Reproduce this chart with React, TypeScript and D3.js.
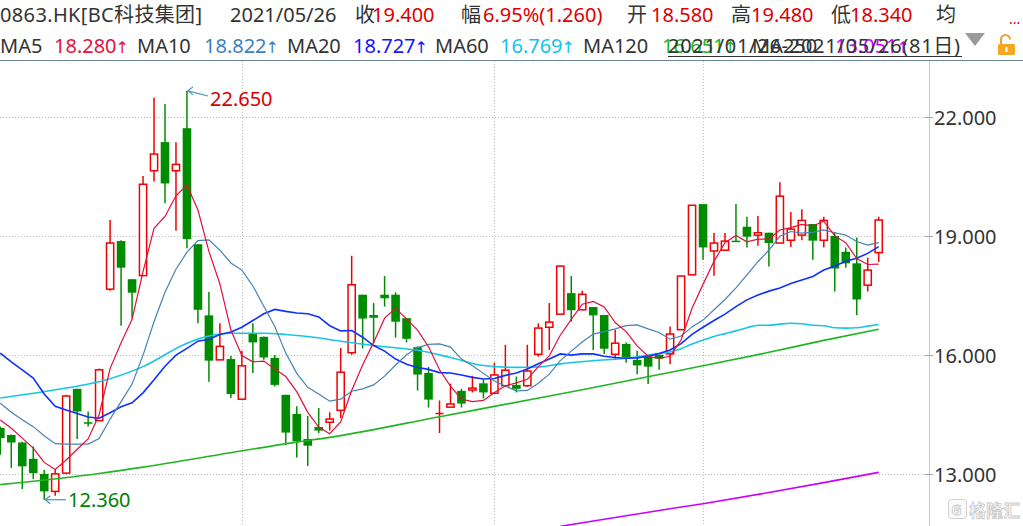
import React from "react";
import * as d3 from "d3";

// ---- candle data (81 trading days, 2021/01/26 - 2021/05/26) ----
const opens = [14.17, 13.99, 13.80, 13.39, 13.01, 12.57, 13.03, 15.15, 14.31, 14.35,
  17.66, 18.87, 17.91, 18.00, 20.64, 21.36, 20.64, 21.71, 18.79, 17.00,
  15.88, 15.90, 14.89, 16.53, 16.46, 15.93, 15.00, 14.52, 13.89, 14.19,
  14.31, 14.61, 16.06, 17.52, 17.01, 17.52, 17.52, 16.93, 16.20, 15.55,
  14.52, 14.69, 15.10, 15.12, 15.29, 15.04, 15.23, 15.25, 15.23, 16.02,
  16.70, 17.03, 17.56, 17.14, 17.21, 17.01, 16.02, 16.28, 15.88, 15.96,
  16.01, 16.03, 16.64, 18.02, 19.80, 18.62, 18.64, 18.88, 19.23, 19.02,
  19.08, 18.82, 18.89, 19.02, 19.30, 18.89, 19.00, 18.60, 18.31, 17.76, 18.58];
const highs = [14.20, 14.00, 13.82, 13.70, 13.11, 13.13, 15.00, 15.15, 14.58, 15.66,
  19.40, 18.89, 17.91, 20.51, 22.48, 22.32, 21.36, 22.65, 18.79, 17.59,
  16.80, 15.98, 16.11, 16.80, 16.47, 16.00, 15.00, 14.71, 14.47, 14.67,
  14.56, 16.18, 18.50, 17.52, 17.31, 17.99, 17.58, 16.93, 16.22, 15.70,
  14.86, 15.28, 15.15, 15.48, 15.39, 15.81, 16.26, 15.46, 16.26, 16.80,
  17.31, 18.25, 17.99, 17.62, 17.21, 17.01, 16.64, 16.32, 16.11, 15.96,
  16.01, 16.72, 17.99, 19.77, 19.80, 19.07, 19.07, 19.80, 19.48, 19.50,
  19.08, 20.35, 19.60, 19.67, 19.30, 19.48, 19.10, 18.71, 18.96, 18.45, 19.48];
const lows = [13.49, 13.16, 12.63, 12.88, 12.36, 12.46, 13.00, 13.89, 14.20, 14.35,
  17.62, 16.74, 16.93, 18.00, 20.37, 19.82, 19.13, 18.69, 16.80, 15.33,
  15.88, 14.92, 14.89, 15.55, 15.88, 15.21, 13.74, 13.42, 13.21, 14.04,
  14.10, 14.41, 16.01, 16.17, 16.30, 17.22, 16.44, 16.32, 15.11, 14.68,
  14.04, 14.69, 14.68, 15.06, 14.91, 15.04, 15.23, 15.06, 15.20, 15.96,
  16.13, 17.03, 16.84, 17.14, 16.13, 16.03, 15.88, 15.81, 15.52, 15.27,
  15.63, 15.77, 16.64, 18.02, 18.40, 18.00, 18.64, 18.87, 18.71, 18.75,
  18.23, 18.82, 18.72, 18.89, 18.40, 18.71, 17.60, 18.20, 17.01, 17.60, 18.34];
const closes = [13.91, 13.80, 13.20, 13.03, 12.57, 13.01, 14.97, 14.58, 14.30, 15.63,
  18.82, 18.20, 17.57, 20.30, 21.06, 20.32, 20.80, 18.92, 17.14, 15.86,
  16.22, 15.02, 15.73, 16.32, 15.94, 15.25, 14.05, 13.83, 13.72, 14.10,
  14.39, 15.57, 17.77, 16.92, 16.94, 17.43, 16.84, 16.41, 15.51, 14.88,
  14.53, 14.77, 14.78, 15.17, 15.06, 15.50, 15.62, 15.15, 15.60, 16.68,
  16.83, 18.24, 17.13, 17.53, 17.00, 16.16, 16.30, 15.95, 15.74, 15.71,
  15.91, 16.53, 17.99, 19.77, 18.71, 18.82, 18.87, 18.87, 18.98, 19.08,
  18.82, 20.00, 19.17, 19.39, 18.88, 19.39, 18.18, 18.31, 17.40, 18.14, 19.40];

// ---- moving averages ----
const ma5 = [14.37, 14.16, 13.91, 13.66, 13.30, 13.12, 13.36, 13.63, 13.89, 14.50,
  15.66, 16.31, 16.90, 18.10, 19.19, 19.49, 20.01, 20.28, 19.65, 18.61,
  17.79, 16.63, 15.99, 15.83, 15.85, 15.65, 15.46, 15.08, 14.56, 14.19,
  14.02, 14.32, 15.11, 15.75, 16.32, 16.93, 17.18, 16.91, 16.63, 16.21,
  15.63, 15.22, 14.89, 14.83, 14.86, 15.06, 15.23, 15.30, 15.39, 15.71,
  15.98, 16.50, 16.90, 17.28, 17.35, 17.21, 16.82, 16.59, 16.23, 15.97,
  15.92, 15.97, 16.38, 17.18, 17.78, 18.36, 18.83, 19.01, 18.85, 18.92,
  18.92, 19.15, 19.21, 19.29, 19.25, 19.37, 19.00, 18.83, 18.43, 18.28, 18.29];
const ma10 = [14.79, 14.56, 14.37, 14.20, 13.97, 13.77, 13.76, 13.76, 13.76, 13.90,
  14.39, 14.83, 15.27, 16.00, 16.84, 17.58, 18.16, 18.59, 18.88, 18.90,
  18.64, 18.32, 18.14, 17.74, 17.23, 16.72, 16.05, 15.54, 15.19, 15.02,
  14.84, 14.89, 15.09, 15.15, 15.25, 15.47, 15.75, 16.01, 16.19, 16.27,
  16.28, 16.20, 15.90, 15.73, 15.54, 15.35, 15.22, 15.10, 15.11, 15.29,
  15.52, 15.86, 16.10, 16.33, 16.53, 16.59, 16.66, 16.74, 16.76, 16.66,
  16.57, 16.40, 16.48, 16.71, 16.88, 17.14, 17.40, 17.69, 18.02, 18.35,
  18.64, 18.99, 19.11, 19.07, 19.09, 19.15, 19.08, 19.02, 18.86, 18.77, 18.83];
const ma20 = [16.05, 15.83, 15.63, 15.42, 15.02, 14.71, 14.62, 14.53, 14.44, 14.41,
  14.55, 14.70, 14.80, 15.05, 15.38, 15.72, 16.00, 16.17, 16.35, 16.40,
  16.52, 16.58, 16.70, 16.87, 17.04, 17.15, 17.10, 17.06, 17.04, 16.96,
  16.74, 16.61, 16.62, 16.45, 16.24, 16.10, 15.90, 15.77, 15.69, 15.64,
  15.56, 15.55, 15.50, 15.44, 15.40, 15.41, 15.49, 15.55, 15.65, 15.78,
  15.90, 16.03, 16.00, 16.03, 16.03, 15.97, 15.94, 15.92, 15.93, 15.97,
  16.04, 16.13, 16.29, 16.52, 16.70, 16.87, 17.03, 17.22, 17.39, 17.51,
  17.61, 17.69, 17.80, 17.89, 17.98, 18.14, 18.24, 18.36, 18.44, 18.56, 18.73];
const ma60Days = [0, 6, 9, 13, 17, 19, 21, 24, 26, 28, 31, 35, 38, 41, 44, 47, 49, 51, 54, 57,
  59, 60, 61, 62, 63, 64, 65, 66, 67, 68, 69, 70, 71, 72, 73, 74, 75, 76, 77, 78, 79, 80];
const ma60Vals = [14.92, 15.17, 15.33, 15.71, 16.30, 16.48, 16.55, 16.55, 16.52, 16.47, 16.35, 16.21,
  16.12, 15.94, 15.74, 15.69, 15.70, 15.78, 15.86, 15.92, 16.00, 16.04, 16.08, 16.16, 16.28, 16.38,
  16.47, 16.54, 16.61, 16.69, 16.75, 16.75, 16.78, 16.80, 16.79, 16.75, 16.74, 16.69, 16.68, 16.69,
  16.73, 16.77];
const ma120Days = [0, 9, 13, 20, 27, 30, 40, 50, 53, 60, 64, 70, 75, 80];
const ma120Vals = [12.74, 13.02, 13.18, 13.50, 13.81, 13.93, 14.45, 14.97, 15.13, 15.51, 15.73, 16.07, 16.37, 16.65];
const ma250Days = [51, 55, 60, 64, 70, 75, 80];
const ma250Vals = [11.69, 11.87, 12.09, 12.26, 12.54, 12.79, 13.05];

const yTicks = [13, 16, 19, 22];
const monthStarts = [22, 45, 64];
const highIdx = 17;
const lowIdx = 4;

const F = "'Noto Sans', 'Noto Sans CJK SC', sans-serif";
const ARROWF = "'DejaVu Sans', sans-serif";

export default function App() {
  const x = d3.scaleLinear().domain([0, 80]).range([0.3, 878.7]);
  const y = d3.scaleLinear().domain([13, 22]).range([474.3, 116.7]);
  const UP = "#f00000";
  const DOWN = "#008c00";
  const TXT = "#333333";
  const RED = "#dd0000";
  const axisX = 929.5;
  const top = 61;

  const full = d3.line<number>().x((_, i) => x(i)).y((d) => y(d));
  const sparse = (days: number[], vals: number[]) =>
    d3
      .line<number>()
      .x((_, k) => x(days[k]))
      .y((d) => y(d))
      .curve(d3.curveMonotoneX)(vals) || "";

  const hiX = x(highIdx);
  const hiY = y(highs[highIdx]);
  const loX = x(lowIdx);
  const loY = y(lows[lowIdx]);

  const maVal = (xx: number, v: string, c: string) => (
    <text x={xx} y={52.5} fill={c}>
      {v}
      <tspan fontFamily={ARROWF} fontSize={16} dx={-1}>↑</tspan>
    </text>
  );

  return (
    <div style={{ position: "absolute", left: 0, top: 0, width: 1023, height: 526, background: "#fff" }}>
      <svg width={1023} height={526} style={{ display: "block" }} fontFamily={F} fontSize={20}>
        <defs>
          <clipPath id="plotClip">
            <rect x={0} y={top} width={axisX} height={526 - top} />
          </clipPath>
        </defs>
        <rect width={1023} height={526} fill="#fff" />

        {/* header row 1 */}
        <g fill={TXT}>
          <text x={0} y={22} textLength={202} lengthAdjust="spacing">0863.HK[BC科技集团]</text>
          <text x={230} y={22}>2021/05/26</text>
          <text x={355} y={22}>收</text>
          <text x={372} y={22} fill={RED}>19.400</text>
          <text x={461} y={22}>幅</text>
          <text x={483} y={22} fill={RED}>6.95%(1.260)</text>
          <text x={627} y={22}>开</text>
          <text x={651} y={22} fill={RED}>18.580</text>
          <text x={731} y={22}>高</text>
          <text x={751} y={22} fill={RED}>19.480</text>
          <text x={831} y={22}>低</text>
          <text x={850} y={22} fill={RED}>18.340</text>
          <text x={936} y={22}>均</text>
          <text x={1009} y={24} fill={RED} fontSize={14}>...</text>
        </g>

        {/* header row 2 */}
        <g fill={TXT}>
          <text x={0} y={52.5}>MA5</text>
          {maVal(54, "18.280", "#e0143c")}
          <text x={137} y={52.5}>MA10</text>
          {maVal(204, "18.822", "#3d7fbf")}
          <text x={287} y={52.5}>MA20</text>
          {maVal(353, "18.727", "#1414ff")}
          <text x={435} y={52.5}>MA60</text>
          {maVal(500, "16.769", "#12c2e9")}
          <text x={583} y={52.5}>MA120</text>
          {maVal(662, "16.651", "#22b422")}
          <text x={752} y={52.5}>MA250</text>
          {maVal(835, "13.051", "#cc00ff")}
          <text x={668} y={52.5} textLength={292} lengthAdjust="spacing">2021/01/26-2021/05/26(81日)</text>
          <line x1={668} x2={962} y1={56.5} y2={56.5} stroke={TXT} strokeWidth={1} />
          <polygon points="965,33 985,33 975,46" fill="#9a9a9a" />
          <path d="M1001,44 V39.5 A4.5,4.5 0 0 1 1010,39.5" fill="none" stroke="#f0a030" strokeWidth={2} />
          <rect x={998} y={44} width={17} height={11} rx={1.5} fill="#f5a623" />
          <rect x={1005.5} y={47} width={2} height={5} fill="#fff" />
        </g>

        {/* frame */}
        <line x1={0} x2={1023} y1={60.5} y2={60.5} stroke="#6b8597" strokeWidth={1} />
        <line x1={axisX} x2={axisX} y1={top} y2={526} stroke="#c8c8c8" strokeWidth={1} />

        {/* grid */}
        {yTicks.map((t) => {
          const yy = Math.round(y(t)) + 0.5;
          return (
            <g key={t}>
              <line x1={0} x2={925} y1={yy} y2={yy} stroke="#bdbdbd" strokeDasharray="1 2" />
              <line x1={925} x2={933} y1={yy} y2={yy} stroke="#aaaaaa" />
              <text x={934} y={yy + 7} fill={TXT}>{t.toFixed(3)}</text>
            </g>
          );
        })}
        {monthStarts.map((m) => {
          const xx = Math.round(x(m)) + 0.5;
          return <line key={m} x1={xx} x2={xx} y1={top} y2={526} stroke="#bdbdbd" strokeDasharray="1 2" />;
        })}

        <g clipPath="url(#plotClip)">
          {/* candles */}
          {closes.map((c, i) => {
            const o = opens[i];
            const cx = x(i);
            const up = c > o;
            const yT = y(Math.max(o, c));
            const yB = y(Math.min(o, c));
            const yH = y(highs[i]);
            const yL = y(lows[i]);
            if (up) {
              return (
                <g key={i} stroke={UP} strokeWidth={1.5}>
                  {yT - yH > 0.3 && <line x1={cx} x2={cx} y1={yH} y2={yT} />}
                  {yL - yB > 0.3 && <line x1={cx} x2={cx} y1={yB} y2={yL} />}
                  {yB - yT < 1.6 ? (
                    <line x1={cx - 4} x2={cx + 4} y1={yT} y2={yT} />
                  ) : (
                    <rect x={cx - 3.6} y={yT} width={7.2} height={yB - yT} fill="#fff" />
                  )}
                </g>
              );
            }
            return (
              <g key={i}>
                <line x1={cx} x2={cx} y1={yH} y2={yL} stroke={DOWN} strokeWidth={1.5} />
                <rect x={cx - 4.3} y={yT} width={8.6} height={Math.max(1.5, yB - yT)} fill={DOWN} />
              </g>
            );
          })}

          {/* moving averages */}
          <path d={sparse(ma250Days, ma250Vals)} fill="none" stroke="#cc00ff" strokeWidth={1.6} />
          <path d={sparse(ma120Days, ma120Vals)} fill="none" stroke="#22b422" strokeWidth={1.6} />
          <path d={sparse(ma60Days, ma60Vals)} fill="none" stroke="#18c4e6" strokeWidth={1.6} />
          <path d={full(ma20) || ""} fill="none" stroke="#1030ff" strokeWidth={1.6} />
          <path d={full(ma10) || ""} fill="none" stroke="#4682b4" strokeWidth={1.2} />
          <path d={full(ma5) || ""} fill="none" stroke="#e0103c" strokeWidth={1.2} />
        </g>

        {/* high / low annotations */}
        <g stroke="#4a94b4" strokeWidth={1.2} fill="none">
          <line x1={hiX + 1} y1={hiY} x2={208} y2={96} />
          <polyline points={`${hiX + 6},${hiY - 4} ${hiX + 1},${hiY} ${hiX + 6},${hiY + 4}`} />
          <line x1={loX + 1} y1={loY} x2={66} y2={loY} />
          <polyline points={`${loX + 6},${loY - 4} ${loX + 1},${loY} ${loX + 6},${loY + 4}`} />
        </g>
        <text x={210} y={106} fill="#d40000">{highs[highIdx].toFixed(3)}</text>
        <text x={68} y={507} fill="#008000">{lows[lowIdx].toFixed(3)}</text>

        {/* watermark */}
        <rect x={948.5} y={499.5} width={18} height={19} rx={3} fill="#fafafa" stroke="#d0d0d0" />
        <text x={951.5} y={515} fontSize={14} fontWeight="bold" fill="#fff" stroke="#c8c8c8" strokeWidth={0.8}>G</text>
        <text x={969} y={517} fontSize={17} fontWeight="bold" fill="#fff" stroke="#c8c8c8" strokeWidth={0.8}>格隆汇</text>
      </svg>
    </div>
  );
}
